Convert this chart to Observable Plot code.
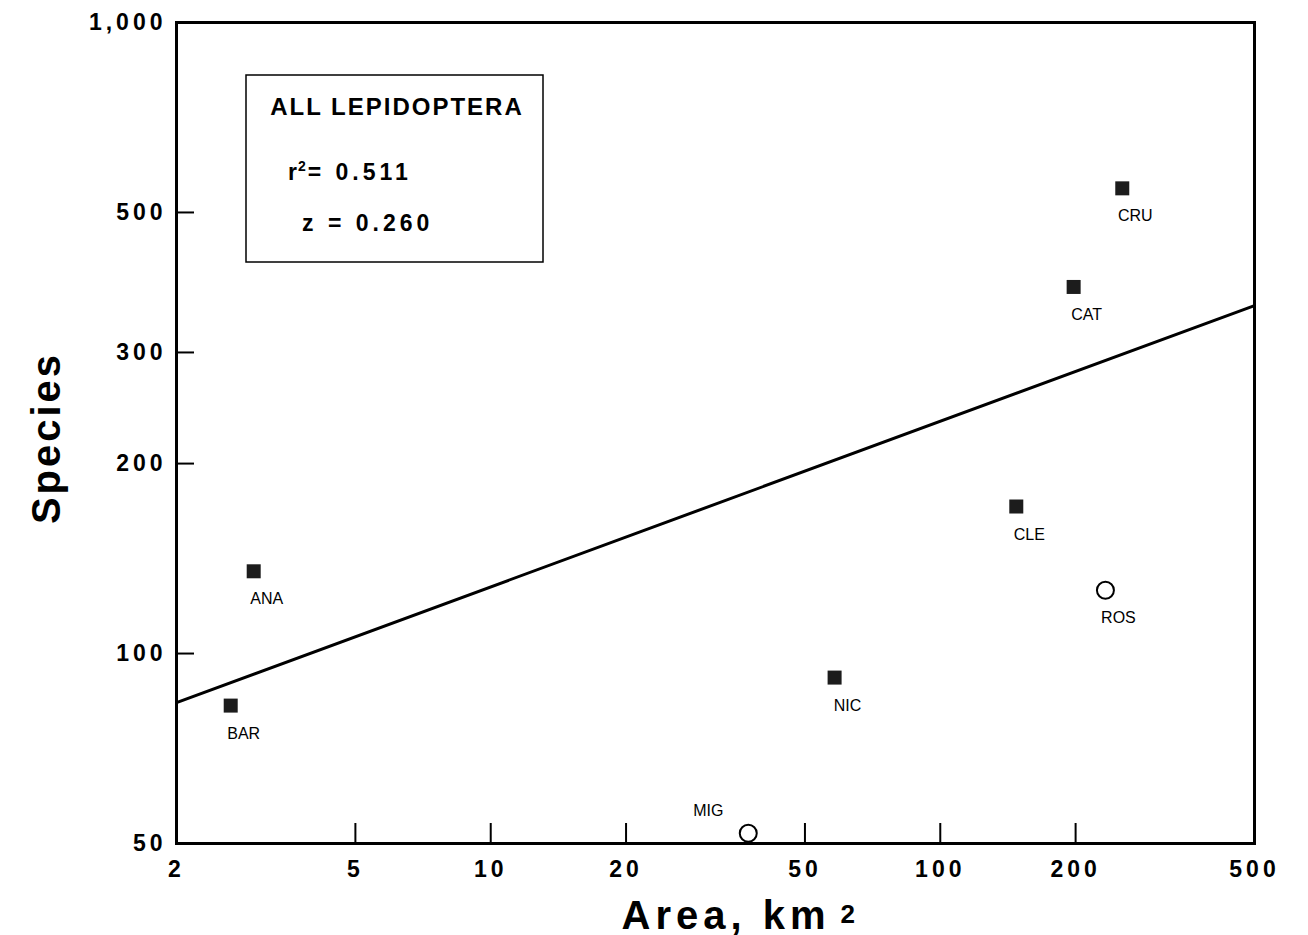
<!DOCTYPE html>
<html><head><meta charset="utf-8">
<script src="https://cdn.jsdelivr.net/npm/d3@7"></script>
<script src="https://cdn.jsdelivr.net/npm/@observablehq/plot@0.6"></script>
<style>
html,body{margin:0;padding:0;background:#fff;}
#chart{position:relative;width:1308px;height:935px;}
#chart svg{font-family:"Liberation Sans",Arial,Helvetica,sans-serif;}
g[aria-label="x-axis tick label"] text, g[aria-label="y-axis tick label"] text{letter-spacing:4px;}
</style></head>
<body><div id="chart"></div>
<script>
// Data
const sites   = ["ANA", "BAR", "NIC", "MIG", "CLE", "ROS", "CRU", "CAT"];
const areas   = [2.97, 2.64, 58.2, 37.4, 147.6, 233, 254, 198];
const species = [135, 82.7, 91.6, 51.9, 171, 126, 546, 381];
const status  = ["filled", "filled", "filled", "open", "filled", "open", "filled", "filled"];

// Fitted species-area line (end points)
const fitArea    = [2, 500];
const fitSpecies = [83.6, 356];

// Axis ticks
const xTicks      = [2, 5, 10, 20, 50, 100, 200, 500];
const xTickLabels = ["2", "5", "10", "20", "50", "100", "200", "500"];
const xTickMarks  = [5, 10, 20, 50, 100, 200];
const yTicks      = [50, 100, 200, 300, 500, 1000];
const yTickLabels = ["50", "100", "200", "300", "500", "1,000"];
const yTickMarks  = [100, 200, 300, 500];

// Legend box text
const legendTitle = "ALL LEPIDOPTERA";
const r2Value = "0.511";
const zValue  = "0.260";
const xTitle = "Area, km";
const xTitleSup = "2";
const yTitle = "Species";

const pts = sites.map((s, i) => ({site: s, area: areas[i], species: species[i], status: status[i]}));
const fit = fitArea.map((a, i) => ({area: a, species: fitSpecies[i]}));

const W = 1308, H = 935, mL = 176, mR = 54, mT = 22, mB = 92;
const frameW = W - mL - mR, frameH = H - mT - mB;
const fontFam = '"Liberation Sans",Arial,Helvetica,sans-serif';

const svg = Plot.plot({
  width: W, height: H,
  marginLeft: mL, marginRight: mR, marginTop: mT, marginBottom: mB,
  x: {type: "log", domain: [2, 500]},
  y: {type: "log", domain: [50, 1000]},
  style: {fontFamily: fontFam, background: "white", color: "black"},
  marks: [
    Plot.axisX(xTicks, {tickSize: 0, tickPadding: 17, fontSize: 23, fontWeight: "bold",
      tickFormat: d => xTickLabels[xTicks.indexOf(d)], label: null}),
    Plot.axisY(yTicks, {tickSize: 0, tickPadding: 10, fontSize: 23, fontWeight: "bold",
      tickFormat: d => yTickLabels[yTicks.indexOf(d)], label: null}),
    Plot.tickX(xTickMarks, {x: d => d, insetTop: frameH - 20, strokeWidth: 2}),
    Plot.tickY(yTickMarks, {y: d => d, insetRight: frameW - 18, strokeWidth: 2}),
    Plot.line(fit, {x: "area", y: "species", stroke: "black", strokeWidth: 3}),
    Plot.dot(pts.filter(d => d.status === "filled"), {x: "area", y: "species", symbol: "square", r: 7.9, fill: "#1c1c1c", stroke: "none"}),
    Plot.dot(pts.filter(d => d.status === "open"), {x: "area", y: "species", symbol: "circle", r: 8.5, fill: "white", stroke: "black", strokeWidth: 2}),
    Plot.text(pts.filter(d => d.site !== "MIG"), {x: "area", y: "species", text: "site", dx: 13, dy: 28, fontSize: 16, fill: "black"}),
    Plot.text(pts.filter(d => d.site === "MIG"), {x: "area", y: "species", text: "site", dx: -40, dy: -22, fontSize: 16, fill: "black"}),
    Plot.frame({stroke: "black", strokeWidth: 3}),
    Plot.text([xTitle], {frameAnchor: "bottom-left", text: d => d, textAnchor: "start", lineAnchor: "bottom",
      dx: 445, dy: 85, fontSize: 40, fontWeight: "bold"}),
    Plot.text([xTitleSup], {frameAnchor: "bottom-left", text: d => d, textAnchor: "start", lineAnchor: "bottom",
      dx: 664, dy: 79, fontSize: 26, fontWeight: "bold"}),
    Plot.text([yTitle], {frameAnchor: "left", text: d => d, rotate: -90, textAnchor: "middle", lineAnchor: "bottom",
      dx: -117, dy: 5, fontSize: 40, fontWeight: "bold"})
  ]
});

// letter spacing for axis titles
d3.select(svg).selectAll("text").filter(function() { return this.textContent === xTitle; }).attr("letter-spacing", "5px");
d3.select(svg).selectAll("text").filter(function() { return this.textContent === yTitle; }).attr("letter-spacing", "3px");

// Legend box
const g = d3.select(svg).append("g").attr("font-family", fontFam).attr("font-weight", "bold")
  .attr("fill", "black").attr("text-anchor", "start");
g.append("rect").attr("x", 246).attr("y", 75).attr("width", 297).attr("height", 187)
  .attr("fill", "white").attr("stroke", "black").attr("stroke-width", 1.5);
g.append("text").attr("x", 397).attr("y", 115).attr("text-anchor", "middle").attr("font-size", 24)
  .attr("letter-spacing", "2px").text(legendTitle);
const t2 = g.append("text").attr("x", 288).attr("y", 180).attr("font-size", 23).attr("letter-spacing", "4px");
t2.append("tspan").attr("letter-spacing", "1px").text("r");
t2.append("tspan").attr("font-size", 14).attr("dy", -9).attr("letter-spacing", "2px").text("2");
t2.append("tspan").attr("dy", 9).text("= " + r2Value);
g.append("text").attr("x", 302).attr("y", 231).attr("font-size", 23).attr("letter-spacing", "4px").text("z = " + zValue);

document.getElementById("chart").appendChild(svg);
</script>
</body></html>
